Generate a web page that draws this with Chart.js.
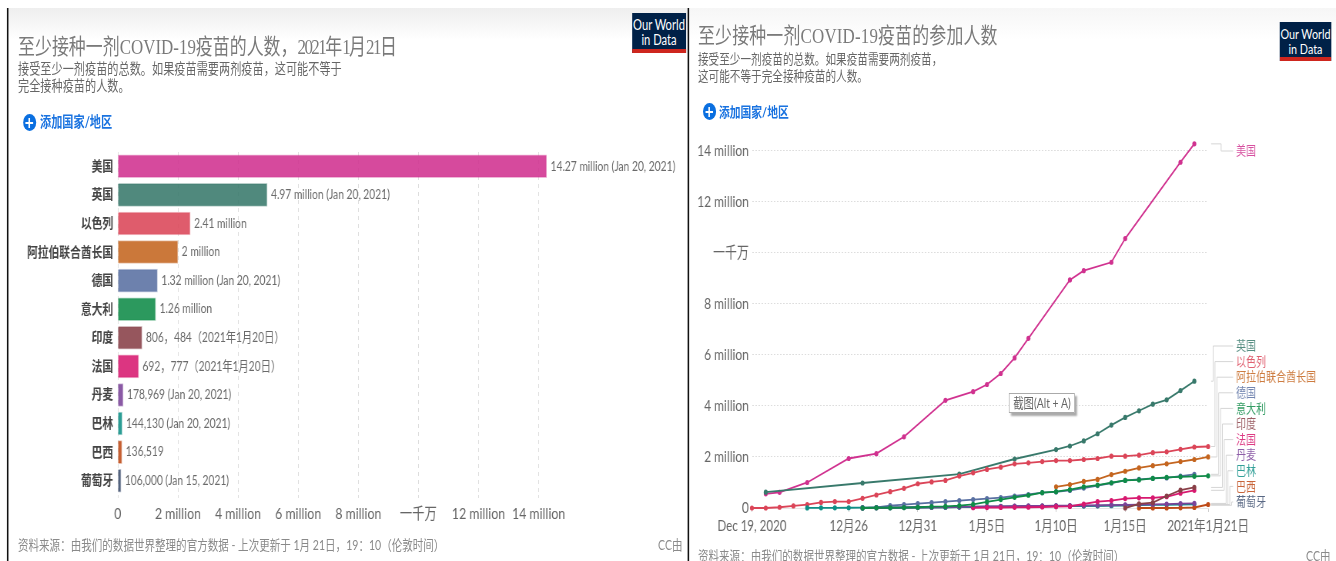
<!DOCTYPE html>
<html lang="zh">
<head>
<meta charset="utf-8">
<title>至少接种一剂COVID-19疫苗的人数</title>
<script src="https://cdn.jsdelivr.net/npm/chart.js@4"></script>
<style>
:root{--s:.77}
html,body{margin:0;padding:0;background:#fff;width:1336px;height:561px;overflow:hidden}
#stage{position:absolute;left:0;top:0;width:1735px;height:561px;transform:scaleX(var(--s));transform-origin:0 0;font-family:Lato,"Noto Sans CJK SC",sans-serif;overflow:hidden}
#stage>*{position:absolute;white-space:nowrap}
.band{height:32px;top:8px}
.vline{width:2px;background:#111;top:8px;bottom:0}
.title{font-family:"Liberation Serif","Noto Sans CJK SC",serif;font-size:22px;color:#7a7a7a;line-height:26px}
.title span{letter-spacing:-2px}
.sub{line-height:16.5px;color:#666}
.add{font-weight:700;color:#1a73e0;line-height:18px}
.plus{width:17px;height:17px;border-radius:50%;background:#0a6fe0}
.plus:before,.plus:after{content:"";position:absolute;background:#fff;left:3.5px;top:7.5px;width:10px;height:2px}
.plus:after{left:7.5px;top:3.5px;width:2px;height:10px}
.foot{font-size:13.7px;color:#8a8a8a;line-height:16px}
.logo{background:#002147;border-bottom:4px solid #ce261e;color:#fff;text-align:center;box-sizing:border-box;line-height:15px;padding-top:4px}
.shot{background:#fff;border:1px solid #aaa;box-shadow:3px 3px 2px #aaa;color:#666;font-size:13.5px;line-height:19px;text-align:center;box-sizing:border-box}
canvas{display:block}
</style>
</head>
<body>
<div id="stage">
  <div class="band" style="left:calc(8px/var(--s));width:calc(680px/var(--s));background:linear-gradient(#eeeeee,#ffffff)"></div>
  <div class="band" style="left:calc(690px/var(--s));width:calc(646px/var(--s));background:linear-gradient(#f6f6f6,#ffffff)"></div>
  <div class="vline" style="left:calc(7px/var(--s))"></div>
  <div class="vline" style="left:calc(687.5px/var(--s))"></div>

  <canvas id="barCanvas" style="left:0;top:0"></canvas>
  <canvas id="lineCanvas" style="left:calc(690px/var(--s));top:0"></canvas>

  <div class="title" style="left:calc(18px/var(--s));top:34px">至少接种一剂COVID-19疫苗的人数&#xFF0C;<span>2021</span>年<span>1</span>月<span>21</span>日</div>
  <div class="sub" style="left:calc(18px/var(--s));top:61px;font-size:14.5px">接受至少一剂疫苗的总数。如果疫苗需要两剂疫苗&#xFF0C;这可能不等于<br>完全接种疫苗的人数。</div>
  <div class="plus" style="left:calc(23px/var(--s));top:114px"></div>
  <div class="add" style="left:calc(40px/var(--s));top:113px;font-size:14.5px">添加国家/地区</div>
  <div class="logo" style="left:calc(632px/var(--s));top:13px;width:calc(54px/var(--s));height:40px;font-size:14.5px">Our World<br>in Data</div>
  <div class="foot" style="left:calc(18px/var(--s));top:537px">资料来源&#xFF1A;由我们的数据世界整理的官方数据 - 上次更新于 1月 21日&#xFF0C;19&#xFF1A;10&#xFF08;伦敦时间&#xFF09;</div>
  <div class="foot" style="left:calc(658px/var(--s));top:537px">CC由</div>

  <div class="title" style="left:calc(698px/var(--s));top:23px;letter-spacing:.2px">至少接种一剂COVID-19疫苗的参加人数</div>
  <div class="sub" style="left:calc(698px/var(--s));top:51px;font-size:13.8px">接受至少一剂疫苗的总数。如果疫苗需要两剂疫苗&#xFF0C;<br>这可能不等于完全接种疫苗的人数。</div>
  <div class="plus" style="left:calc(703px/var(--s));top:103px"></div>
  <div class="add" style="left:calc(719px/var(--s));top:103px;font-size:14px">添加国家/地区</div>
  <div class="logo" style="left:calc(1280px/var(--s));top:22px;width:calc(51px/var(--s));height:39px;font-size:14px">Our World<br>in Data</div>
  <div class="shot" style="left:calc(1009px/var(--s));top:393px;width:calc(66px/var(--s));height:20px">截图(Alt + A)</div>
  <div class="foot" style="left:calc(698px/var(--s));top:548px">资料来源&#xFF1A;由我们的数据世界整理的官方数据 - 上次更新于 1月 21日&#xFF0C;19&#xFF1A;10&#xFF08;伦敦时间&#xFF09;</div>
  <div class="foot" style="left:calc(1306px/var(--s));top:548px">CC由</div>
</div>

<script>
// ---------- data ----------
const countries = ["美国","英国","以色列","阿拉伯联合酋长国","德国","意大利","印度","法国","丹麦","巴林","巴西","葡萄牙"];
const latestValues = [14270000,4970000,2410000,2000000,1320000,1260000,806484,692777,178969,144130,136519,106000];
const barLabels = ["14.27 million (Jan 20, 2021)","4.97 million (Jan 20, 2021)","2.41 million","2 million","1.32 million (Jan 20, 2021)","1.26 million","806\uFF0C484\uFF082021年1月20日\uFF09","692\uFF0C777\uFF082021年1月20日\uFF09","178,969 (Jan 20, 2021)","144,130 (Jan 20, 2021)","136,519","106,000 (Jan 15, 2021)"];
const seriesColors = ["#d0318f","#38796b","#db4558","#c4651f","#5970a2","#0f8b48","#883f47","#d7196f","#7a4399","#0f8f86","#be4a17","#3c4e6e"];
const drawOrder = [12,11,10,9,8,1,2,3,4,6,5,7];

const dates = ["2020-12-19","2020-12-20","2020-12-21","2020-12-22","2020-12-23","2020-12-24","2020-12-25","2020-12-26","2020-12-27","2020-12-28","2020-12-29","2020-12-30","2020-12-31","2021-01-01","2021-01-02","2021-01-03","2021-01-04","2021-01-05","2021-01-06","2021-01-07","2021-01-08","2021-01-09","2021-01-10","2021-01-11","2021-01-12","2021-01-13","2021-01-14","2021-01-15","2021-01-16","2021-01-17","2021-01-18","2021-01-19","2021-01-20","2021-01-21"];
const dateTickLabels = {"2020-12-19":"Dec 19, 2020","2020-12-26":"12月26","2020-12-31":"12月31","2021-01-05":"1月5日","2021-01-10":"1月10日","2021-01-15":"1月15日","2021-01-21":"2021年1月21日"};
const N = null;
const usa      = [N,.556,.614,N,1.0,N,N,1.94,N,2.13,N,2.79,N,N,4.22,N,4.56,4.84,5.27,5.88,6.65,N,N,8.94,9.3,N,9.63,10.56,N,N,N,13.55,14.27,N];
const uk       = [N,.62,N,N,N,N,N,N,.98,N,N,N,N,N,N,1.33,N,N,N,1.92,N,N,2.29,2.43,2.63,2.91,3.25,3.55,3.81,4.07,4.24,4.6,4.97,N];
const israel   = [0,0,.03,.08,.13,.22,.25,.25,.38,.51,.64,.77,.95,1.02,1.08,1.25,1.38,1.51,1.6,1.73,1.77,1.82,1.86,1.86,1.9,1.94,2.03,2.03,2.07,2.17,2.2,2.3,2.39,2.41];
const uae      = [N,N,N,N,N,N,N,N,N,N,N,N,N,N,N,N,N,N,N,N,N,N,.83,.92,1.04,1.12,1.31,1.44,1.57,1.66,1.73,1.82,1.9,2.0];
const germany  = [N,N,N,N,N,N,N,N,.0,.02,.09,.13,.17,.21,.25,.29,.33,.37,.41,.47,.53,.6,.63,.69,.78,.88,.98,1.08,1.12,1.16,1.18,1.25,1.32,N];
const italy    = [N,N,N,N,N,N,N,N,0,.01,.01,.015,.03,.05,.06,.09,.14,.24,.33,.42,.5,.6,.64,.72,.83,.9,.99,1.08,1.1,1.16,1.2,1.22,1.24,1.26];
const india    = [N,N,N,N,N,N,N,N,N,N,N,N,N,N,N,N,N,N,N,N,N,N,N,N,N,N,N,0,.16,.21,.47,.7,.806,N];
const france   = [N,N,N,N,N,N,N,N,N,N,N,N,N,N,N,N,.01,.015,.02,.025,.03,.04,.05,.06,.157,.25,.29,.37,.4,.4,.44,.58,.693,N];
const denmark  = [N,N,N,N,N,N,N,N,.005,.01,.015,.02,.025,.03,.04,.045,.05,.06,.065,.07,.08,.085,.09,.095,.1,.105,.115,.125,.135,.145,.155,.17,.179,N];
const bahrain  = [N,N,N,N,.002,.005,.008,.01,.012,.015,.018,.02,.024,.028,.03,.035,.04,.045,.05,.055,.06,.065,.07,.075,.08,.085,.09,.1,.11,.12,.125,.135,.144,N];
const brazil   = [N,N,N,N,N,N,N,N,N,N,N,N,N,N,N,N,N,N,N,N,N,N,N,N,N,N,N,N,0,0,0,.005,.02,.137];
const portugal = [N,N,N,N,N,N,N,N,.002,.005,.01,.015,.02,.025,.03,.035,.04,.05,.055,.06,.065,.07,.075,.08,.085,.09,.1,.106,N,N,N,N,N,N];
const seriesValues = [usa,uk,israel,uae,germany,italy,india,france,denmark,bahrain,brazil,portugal];

const valueTicks = [0,2000000,4000000,6000000,8000000,10000000,12000000,14000000];
const valueTickLabels = ["0","2 million","4 million","6 million","8 million","一千万","12 million","14 million"];

// ---------- helpers ----------
const S = 0.77;
const FONT = 'Lato, "Noto Sans CJK SC", sans-serif';
const px = v => v / S;
function alpha(hex, a){
  const n = parseInt(hex.slice(1),16);
  return `rgba(${n>>16},${(n>>8)&255},${n&255},${a})`;
}
const setValueTicks = s => { s.ticks = valueTicks.map(value=>({value})); };
const valueTickLabel = v => valueTickLabels[valueTicks.indexOf(v)];
Chart.defaults.devicePixelRatio = 1;
Chart.defaults.animation = false;
Chart.defaults.font.family = FONT;

function sizeCanvas(id,w,h){
  const c = document.getElementById(id);
  c.width = w; c.height = h;
  c.style.width = w+'px'; c.style.height = h+'px';
  return c;
}

// ---------- bar chart ----------
const barLabelPlugin = {
  id:'barLabelPlugin',
  afterDatasetsDraw(chart){
    const ctx = chart.ctx, meta = chart.getDatasetMeta(0);
    ctx.save();
    ctx.font = '13.3px '+FONT;
    ctx.fillStyle = '#6a6a6a';
    ctx.textAlign = 'left'; ctx.textBaseline = 'middle';
    meta.data.forEach((el,i)=>ctx.fillText(barLabels[i], el.x+5, el.y));
    ctx.restore();
  }
};
new Chart(sizeCanvas('barCanvas',894,561),{
  type:'bar',
  plugins:[barLabelPlugin],
  data:{labels:countries,datasets:[{
    data:latestValues,
    backgroundColor:seriesColors.map(c=>alpha(c,.88)),
    borderColor:seriesColors.map(c=>alpha(c,.35)),
    borderWidth:1,
    barThickness:23
  }]},
  options:{
    indexAxis:'y',responsive:false,maintainAspectRatio:false,
    layout:{padding:{left:0,right:184,top:152,bottom:36}},
    plugins:{legend:{display:false},tooltip:{enabled:false}},
    scales:{
      x:{
        min:0,max:14270000,
        afterBuildTicks:setValueTicks,
        afterFit(s){s.height=30;},
        grid:{color:'#dddddd',tickLength:3,drawTicks:true},
        border:{display:false,dash:[4,4]},
        ticks:{maxRotation:0,autoSkip:false,padding:6,color:'#666',font:{size:16,family:FONT},
          callback:valueTickLabel}
      },
      y:{
        afterFit(s){s.width=153;},
        grid:{display:false,drawTicks:false},border:{display:false},
        ticks:{padding:6,color:'#444',autoSkip:false,font:{size:14,weight:'bold',family:FONT}}
      }
    }
  }
});

// ---------- line chart ----------
const labelLayout = {usY:151,firstY:346,stepY:15.6};
const connectorPlugin = {
  id:'connectorPlugin',
  afterDatasetsDraw(chart){
    const ctx = chart.ctx, yS = chart.scales.y, a = chart.chartArea;
    ctx.save();
    ctx.font = '13px '+FONT;
    ctx.textAlign='left'; ctx.textBaseline='middle';
    countries.forEach((name,i)=>{
      const vals = seriesValues[i].filter(v=>v!==null);
      const y0 = yS.getPixelForValue(vals[vals.length-1]*1e6);
      const ly = i===0 ? labelLayout.usY : labelLayout.firstY+(i-1)*labelLayout.stepY;
      const stub = a.right+px(3);
      const elbow = i===0 ? a.right+px(13) : a.right+px(5)+(i-1)*px(1.85);
      const end = a.right+px(25);
      ctx.strokeStyle='#d5d5d5'; ctx.lineWidth=1;
      ctx.beginPath();
      ctx.moveTo(stub,y0); ctx.lineTo(elbow,y0); ctx.lineTo(elbow,ly); ctx.lineTo(end,ly);
      ctx.stroke();
      ctx.fillStyle=alpha(seriesColors[i],.85);
      ctx.fillText(name,a.right+px(28),ly);
    });
    ctx.restore();
  }
};
new Chart(sizeCanvas('lineCanvas',839,561),{
  type:'line',
  plugins:[connectorPlugin],
  data:{labels:dates,datasets:countries.map((name,i)=>({
    label:name,
    data:seriesValues[i].map(v=>v===null?null:v*1e6),
    borderColor:seriesColors[i],
    backgroundColor:seriesColors[i],
    borderWidth:1.8,
    pointRadius:2.6,
    pointBorderWidth:0,
    spanGaps:true,
    tension:0,
    clip:false,
    order:drawOrder[i]
  }))},
  options:{
    responsive:false,maintainAspectRatio:false,
    layout:{padding:{left:0,right:166,top:138,bottom:23}},
    plugins:{legend:{display:false},tooltip:{enabled:false}},
    scales:{
      x:{
        afterFit(s){s.height=30;},
        grid:{drawOnChartArea:false,tickLength:4,color:c=>dateTickLabels[dates[c.index]]?'#cccccc':'transparent'},
        border:{display:true,color:'#e6e6e6'},
        ticks:{autoSkip:false,maxRotation:0,padding:5,color:'#666',font:{size:15,family:FONT},
          callback:(v,i)=>dateTickLabels[dates[i]]||''}
      },
      y:{
        min:0,max:14500000,
        afterBuildTicks:setValueTicks,
        afterFit(s){s.width=80.5;},
        grid:{color:'#dddddd',drawTicks:false},
        border:{display:false,dash:[2,2]},
        ticks:{autoSkip:false,padding:4,color:'#666',font:{size:15.5,family:FONT},
          callback:valueTickLabel}
      }
    }
  }
});
</script>
</body>
</html>
